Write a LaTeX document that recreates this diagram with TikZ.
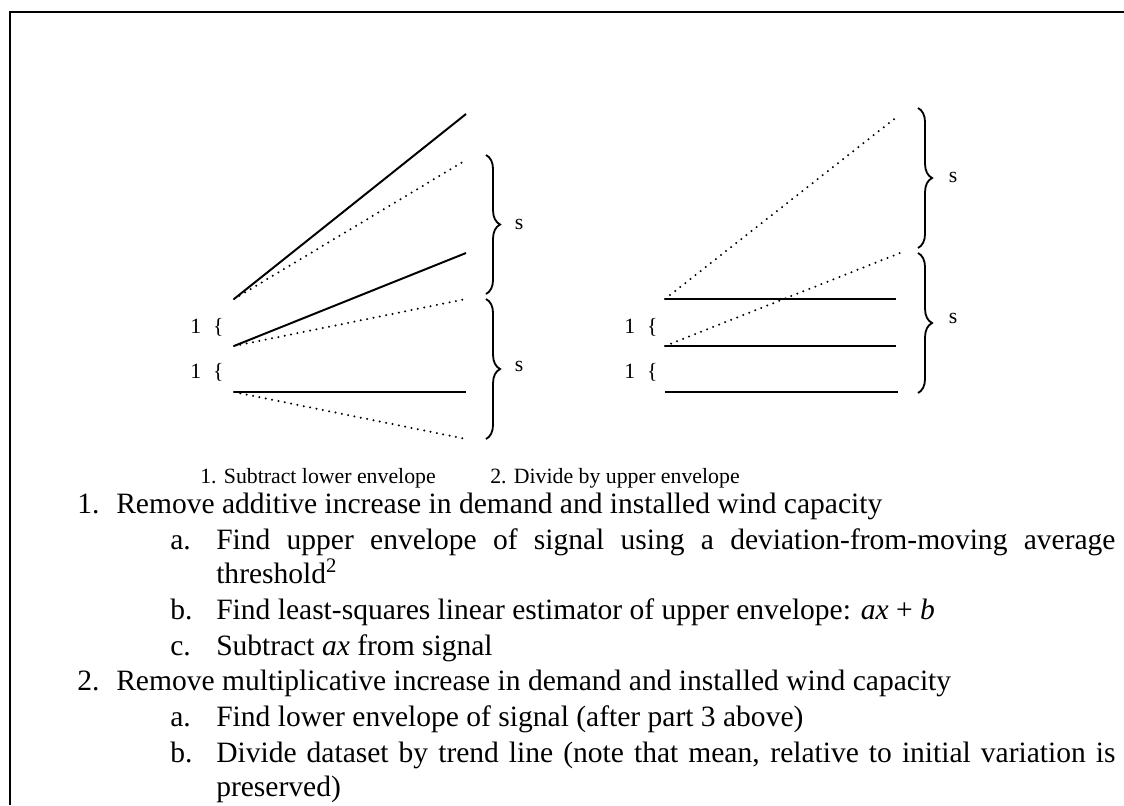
\documentclass[tikz,border=0pt]{standalone}
\usepackage{fontspec}
\setmainfont{Liberation Serif}
\usetikzlibrary{decorations.pathreplacing}
\begin{document}
\begin{tikzpicture}[x=0.025cm,y=-0.025cm,
  solidln/.style={line width=1.4pt},
  dotln/.style={line width=1.6pt,dash pattern=on 0pt off 4.6pt,line cap=round},
  envbrace/.style={decorate,decoration={brace,amplitude=10pt,aspect=0.5},line width=1.3pt},
  lbl/.style={font=\fontsize{15.5}{18}\selectfont,inner sep=0pt},
  item/.style={font=\fontsize{21}{25}\selectfont,inner sep=0pt,anchor=base west}]
\useasboundingbox (0,0) rectangle (1124,805);
\draw[line width=2.1pt] (10,805) -- (10,12) -- (1124,12);
\coordinate (l1) at (234,299);
\coordinate (l2) at (234,346);
\coordinate (l3) at (234,392);
\coordinate (r1) at (665,299);
\coordinate (r2) at (665,346);
\coordinate (r3) at (665,392);
\draw[solidln] (l1) -- (466,114);
\draw[dotln] (l1) -- (466,160);
\draw[solidln] (l2) -- (466,253);
\draw[dotln] (l2) -- (466,299);
\draw[solidln] (l3) -- (466,392);
\draw[dotln] (l3) -- (466,439);
\draw[envbrace] (486,155) -- (486,294);
\draw[envbrace] (486,299) -- (486,439);
\node[lbl] (sl1) at (519,224) {s};
\node[lbl] (sl2) at (519,366) {s};
\node[lbl] (ol1) at (207,327) {1\hspace{0.55em}\{};
\node[lbl] (ol2) at (207,372) {1\hspace{0.55em}\{};
\draw[dotln] (r1) -- (898,116);
\draw[dotln] (r2) -- (900,253);
\draw[solidln] (r1) -- (896,299);
\draw[solidln] (r2) -- (896,346);
\draw[solidln] (r3) -- (898,392);
\draw[envbrace] (918,108) -- (918,248);
\draw[envbrace] (918,253) -- (918,393);
\node[lbl] (sr1) at (953,177) {s};
\node[lbl] (sr2) at (953,318) {s};
\node[lbl] (or1) at (641,327) {1\hspace{0.55em}\{};
\node[lbl] (or2) at (641,372) {1\hspace{0.55em}\{};
\node[lbl,anchor=base west] (capl) at (200,483) {1. Subtract lower envelope};
\node[lbl,anchor=base west] (capr) at (490,483) {2. Divide by upper envelope};
\node[item] (n1) at (77,513) {1.};
\node[item] (t1) at (116,513) {Remove additive increase in demand and installed wind capacity};
\node[item] (n1a) at (170,549) {a.};
\node[item] (t1a) at (216,549) {\makebox[22.475cm][s]{Find upper envelope of signal using a deviation-from-moving average}};
\node[item] (t1a2) at (216,583) {threshold\textsuperscript{2}};
\node[item] (n1b) at (170,619) {b.};
\node[item] (t1b) at (216,619) {Find least-squares linear estimator of upper envelope: \textit{ax} + \textit{b}};
\node[item] (n1c) at (170,655) {c.};
\node[item] (t1c) at (216,655) {Subtract \textit{ax} from signal};
\node[item] (n2) at (77,690) {2.};
\node[item] (t2) at (116,690) {Remove multiplicative increase in demand and installed wind capacity};
\node[item] (n2a) at (170,726) {a.};
\node[item] (t2a) at (216,726) {Find lower envelope of signal (after part 3 above)};
\node[item] (n2b) at (170,762) {b.};
\node[item] (t2b) at (216,762) {\makebox[22.475cm][s]{Divide dataset by trend line (note that mean, relative to initial variation is}};
\node[item] (t2b2) at (216,796) {preserved)};
\end{tikzpicture}
\end{document}
